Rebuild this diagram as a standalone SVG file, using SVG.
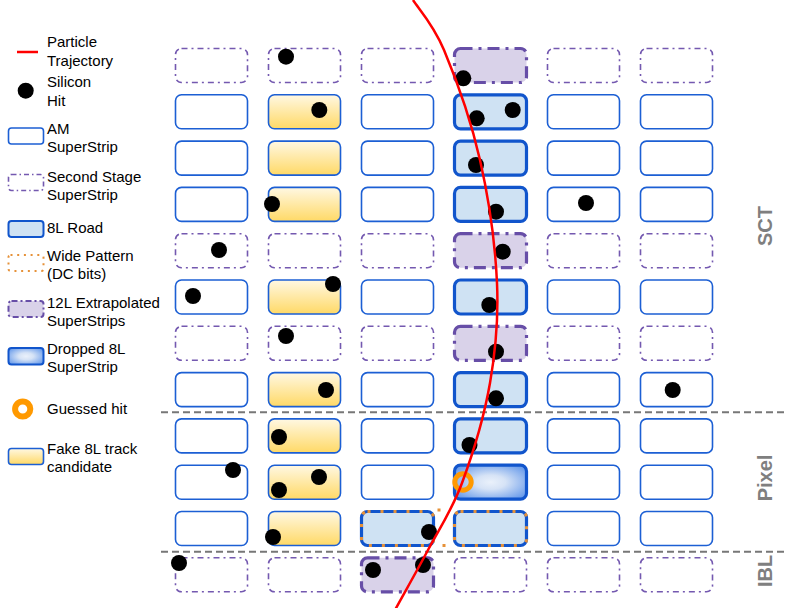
<svg xmlns="http://www.w3.org/2000/svg" width="787" height="608" viewBox="0 0 787 608">
<defs>
<linearGradient id="gy" x1="0" y1="0" x2="0" y2="1">
<stop offset="0" stop-color="#fff8e3"/>
<stop offset="1" stop-color="#ffd966"/>
</linearGradient>
<radialGradient id="gr" cx="0.5" cy="0.5" r="0.6">
<stop offset="0" stop-color="#eaf1fb"/>
<stop offset="0.35" stop-color="#d6e3f6"/>
<stop offset="1" stop-color="#6d9eeb"/>
</radialGradient>
</defs>
<style>
.am{fill:#fff;stroke:#1c5fd4;stroke-width:1.6}
.ss{fill:#fff;stroke:#7459b0;stroke-width:1.6;stroke-dasharray:6 4 2 4}
.yl{fill:url(#gy);stroke:#1c5fd4;stroke-width:1.6}
.rd{fill:#cfe2f3;stroke:#1155cc;stroke-width:3.2}
.dr{fill:url(#gr);stroke:#1155cc;stroke-width:3.2}
.ex{fill:#d9d2e9;stroke:#674ea7;stroke-width:3.2;stroke-dasharray:12 6 3 6}
.wp{fill:none;stroke:#e69138;stroke-width:3;stroke-dasharray:3 10}
.hit{fill:#000}
.ring{fill:none;stroke:#ff9900;stroke-width:5}
.lg{font-family:"Liberation Sans",Arial,sans-serif;font-size:15px;fill:#000}
.det{font-family:"Liberation Sans",Arial,sans-serif;font-size:20px;font-weight:bold;fill:#7f7f7f}
.sep{stroke:#777;stroke-width:2;stroke-dasharray:7 4;fill:none}
</style>

<g id="legend">
<g id="leg-traj"><line x1="17" y1="52" x2="38" y2="52" stroke="#ff0000" stroke-width="2.5"/><text class="lg" x="47" y="47">Particle</text><text class="lg" x="47" y="66">Trajectory</text></g>
<g id="leg-hit"><circle class="hit" cx="25.7" cy="90.7" r="8"/><text class="lg" x="47" y="87">Silicon</text><text class="lg" x="47" y="106">Hit</text></g>
<g id="leg-am"><rect class="am" x="8.5" y="128" width="35" height="16" rx="3"/><text class="lg" x="47" y="134">AM</text><text class="lg" x="47" y="152">SuperStrip</text></g>
<g id="leg-ss"><rect class="ss" x="8.5" y="174.5" width="35" height="16" rx="3" style="stroke-dasharray:5 3 1.5 3"/><text class="lg" x="47" y="182">Second Stage</text><text class="lg" x="47" y="200">SuperStrip</text></g>
<g id="leg-road"><rect class="rd" x="8.5" y="221" width="35" height="16" rx="3" style="stroke-width:2"/><text class="lg" x="47" y="233">8L Road</text></g>
<g id="leg-wide"><rect class="wp" x="8.5" y="255" width="35" height="16" rx="2" style="stroke-width:2;stroke-dasharray:2 4.7"/><text class="lg" x="47" y="261">Wide Pattern</text><text class="lg" x="47" y="279">(DC bits)</text></g>
<g id="leg-ext"><rect class="ex" x="8.5" y="301" width="35" height="16" rx="3" style="stroke-width:2;stroke-dasharray:6 3 2 3"/><text class="lg" x="47" y="307.5">12L Extrapolated</text><text class="lg" x="47" y="326">SuperStrips</text></g>
<g id="leg-drop"><rect class="dr" x="8.5" y="348" width="35" height="16.5" rx="3" style="stroke-width:2"/><text class="lg" x="47" y="353.5">Dropped 8L</text><text class="lg" x="47" y="372">SuperStrip</text></g>
<g id="leg-guess"><circle class="ring" cx="22.7" cy="409" r="7.6" style="stroke-width:6"/><text class="lg" x="47" y="413.5">Guessed hit</text></g>
<g id="leg-fake"><rect class="yl" x="8.5" y="448.5" width="35" height="16" rx="3"/><text class="lg" x="47" y="454">Fake 8L track</text><text class="lg" x="47" y="472">candidate</text></g>
</g>

<g id="row1">
<rect class="ss" x="175.5" y="48.5" width="72" height="34" rx="6"/>
<rect class="ss" x="268.5" y="48.5" width="72" height="34" rx="6"/>
<rect class="ss" x="361.5" y="48.5" width="72" height="34" rx="6"/>
<rect class="ex" x="454.5" y="48.5" width="72" height="34" rx="6"/>
<rect class="ss" x="547.5" y="48.5" width="72" height="34" rx="6"/>
<rect class="ss" x="640.5" y="48.5" width="72" height="34" rx="6"/>
</g>
<g id="row2">
<rect class="am" x="175.5" y="94.8" width="72" height="34" rx="6"/>
<rect class="yl" x="268.5" y="94.8" width="72" height="34" rx="6"/>
<rect class="am" x="361.5" y="94.8" width="72" height="34" rx="6"/>
<rect class="rd" x="454.5" y="94.8" width="72" height="34" rx="6"/>
<rect class="am" x="547.5" y="94.8" width="72" height="34" rx="6"/>
<rect class="am" x="640.5" y="94.8" width="72" height="34" rx="6"/>
</g>
<g id="row3">
<rect class="am" x="175.5" y="141.1" width="72" height="34" rx="6"/>
<rect class="yl" x="268.5" y="141.1" width="72" height="34" rx="6"/>
<rect class="am" x="361.5" y="141.1" width="72" height="34" rx="6"/>
<rect class="rd" x="454.5" y="141.1" width="72" height="34" rx="6"/>
<rect class="am" x="547.5" y="141.1" width="72" height="34" rx="6"/>
<rect class="am" x="640.5" y="141.1" width="72" height="34" rx="6"/>
</g>
<g id="row4">
<rect class="am" x="175.5" y="187.4" width="72" height="34" rx="6"/>
<rect class="yl" x="268.5" y="187.4" width="72" height="34" rx="6"/>
<rect class="am" x="361.5" y="187.4" width="72" height="34" rx="6"/>
<rect class="rd" x="454.5" y="187.4" width="72" height="34" rx="6"/>
<rect class="am" x="547.5" y="187.4" width="72" height="34" rx="6"/>
<rect class="am" x="640.5" y="187.4" width="72" height="34" rx="6"/>
</g>
<g id="row5">
<rect class="ss" x="175.5" y="233.7" width="72" height="34" rx="6"/>
<rect class="ss" x="268.5" y="233.7" width="72" height="34" rx="6"/>
<rect class="ss" x="361.5" y="233.7" width="72" height="34" rx="6"/>
<rect class="ex" x="454.5" y="233.7" width="72" height="34" rx="6"/>
<rect class="ss" x="547.5" y="233.7" width="72" height="34" rx="6"/>
<rect class="ss" x="640.5" y="233.7" width="72" height="34" rx="6"/>
</g>
<g id="row6">
<rect class="am" x="175.5" y="280" width="72" height="34" rx="6"/>
<rect class="yl" x="268.5" y="280" width="72" height="34" rx="6"/>
<rect class="am" x="361.5" y="280" width="72" height="34" rx="6"/>
<rect class="rd" x="454.5" y="280" width="72" height="34" rx="6"/>
<rect class="am" x="547.5" y="280" width="72" height="34" rx="6"/>
<rect class="am" x="640.5" y="280" width="72" height="34" rx="6"/>
</g>
<g id="row7">
<rect class="ss" x="175.5" y="326.3" width="72" height="34" rx="6"/>
<rect class="ss" x="268.5" y="326.3" width="72" height="34" rx="6"/>
<rect class="ss" x="361.5" y="326.3" width="72" height="34" rx="6"/>
<rect class="ex" x="454.5" y="326.3" width="72" height="34" rx="6"/>
<rect class="ss" x="547.5" y="326.3" width="72" height="34" rx="6"/>
<rect class="ss" x="640.5" y="326.3" width="72" height="34" rx="6"/>
</g>
<g id="row8">
<rect class="am" x="175.5" y="372.6" width="72" height="34" rx="6"/>
<rect class="yl" x="268.5" y="372.6" width="72" height="34" rx="6"/>
<rect class="am" x="361.5" y="372.6" width="72" height="34" rx="6"/>
<rect class="rd" x="454.5" y="372.6" width="72" height="34" rx="6"/>
<rect class="am" x="547.5" y="372.6" width="72" height="34" rx="6"/>
<rect class="am" x="640.5" y="372.6" width="72" height="34" rx="6"/>
</g>
<g id="row9">
<rect class="am" x="175.5" y="418.9" width="72" height="34" rx="6"/>
<rect class="yl" x="268.5" y="418.9" width="72" height="34" rx="6"/>
<rect class="am" x="361.5" y="418.9" width="72" height="34" rx="6"/>
<rect class="rd" x="454.5" y="418.9" width="72" height="34" rx="6"/>
<rect class="am" x="547.5" y="418.9" width="72" height="34" rx="6"/>
<rect class="am" x="640.5" y="418.9" width="72" height="34" rx="6"/>
</g>
<g id="row10">
<rect class="am" x="175.5" y="465.2" width="72" height="34" rx="6"/>
<rect class="yl" x="268.5" y="465.2" width="72" height="34" rx="6"/>
<rect class="am" x="361.5" y="465.2" width="72" height="34" rx="6"/>
<rect class="dr" x="454.5" y="465.2" width="72" height="34" rx="6"/>
<rect class="am" x="547.5" y="465.2" width="72" height="34" rx="6"/>
<rect class="am" x="640.5" y="465.2" width="72" height="34" rx="6"/>
</g>
<g id="row11">
<rect class="am" x="175.5" y="511.5" width="72" height="34" rx="6"/>
<rect class="yl" x="268.5" y="511.5" width="72" height="34" rx="6"/>
<rect class="rd" x="361.5" y="511.5" width="72" height="34" rx="6"/>
<rect class="wp" x="361.5" y="511.5" width="72" height="34" rx="6"/>
<rect x="437.5" y="508.5" width="3" height="3" fill="#e69138"/>
<rect x="442.5" y="544" width="3" height="3" fill="#e69138"/>
<rect class="rd" x="454.5" y="511.5" width="72" height="34" rx="6"/>
<rect class="wp" x="454.5" y="511.5" width="72" height="34" rx="6"/>
<rect class="am" x="547.5" y="511.5" width="72" height="34" rx="6"/>
<rect class="am" x="640.5" y="511.5" width="72" height="34" rx="6"/>
</g>
<g id="row12">
<rect class="ss" x="175.5" y="557.8" width="72" height="34" rx="6"/>
<rect class="ss" x="268.5" y="557.8" width="72" height="34" rx="6"/>
<rect class="ex" x="361.5" y="557.8" width="72" height="34" rx="6"/>
<rect class="ss" x="454.5" y="557.8" width="72" height="34" rx="6"/>
<rect class="ss" x="547.5" y="557.8" width="72" height="34" rx="6"/>
<rect class="ss" x="640.5" y="557.8" width="72" height="34" rx="6"/>
</g>

<g id="separators">
<line class="sep" x1="161" y1="412.3" x2="787" y2="412.3"/>
<line class="sep" x1="161" y1="551.7" x2="787" y2="551.7"/>
</g>

<g id="labels">
<text class="det" text-anchor="middle" transform="translate(771.5,226) rotate(-90)">SCT</text>
<text class="det" text-anchor="middle" transform="translate(771.5,478) rotate(-90)">Pixel</text>
<text class="det" text-anchor="middle" transform="translate(771.5,571) rotate(-90)">IBL</text>
</g>

<g id="hits">
<circle class="hit" cx="286" cy="56.7" r="8"/>
<circle class="hit" cx="463.3" cy="78.3" r="8"/>
<circle class="hit" cx="319.3" cy="110" r="8"/>
<circle class="hit" cx="476.7" cy="118.3" r="8"/>
<circle class="hit" cx="512.7" cy="110" r="8"/>
<circle class="hit" cx="476" cy="165" r="8"/>
<circle class="hit" cx="272" cy="204" r="8"/>
<circle class="hit" cx="496" cy="211.7" r="8"/>
<circle class="hit" cx="586" cy="203" r="8"/>
<circle class="hit" cx="219" cy="250" r="8"/>
<circle class="hit" cx="502.7" cy="251.7" r="8"/>
<circle class="hit" cx="193" cy="296" r="8"/>
<circle class="hit" cx="333" cy="284" r="8"/>
<circle class="hit" cx="489.3" cy="305" r="8"/>
<circle class="hit" cx="286" cy="336" r="8"/>
<circle class="hit" cx="496" cy="351.7" r="8"/>
<circle class="hit" cx="326" cy="390" r="8"/>
<circle class="hit" cx="496" cy="398.3" r="8"/>
<circle class="hit" cx="672.7" cy="390" r="8"/>
<circle class="hit" cx="279" cy="437" r="8"/>
<circle class="hit" cx="469.5" cy="445" r="8"/>
<circle class="hit" cx="233" cy="470" r="8"/>
<circle class="hit" cx="319" cy="477" r="8"/>
<circle class="hit" cx="279" cy="490" r="8"/>
<circle class="hit" cx="273" cy="537" r="8"/>
<circle class="hit" cx="429" cy="532" r="8"/>
<circle class="hit" cx="179" cy="563" r="8"/>
<circle class="hit" cx="373" cy="570" r="8"/>
<circle class="hit" cx="423" cy="565" r="8"/>
<circle class="ring" cx="463" cy="482" r="8.2"/>
</g>

<g id="connectors">
<path id="trajectory" fill="none" stroke="#ff0000" stroke-width="2.5" d="M413,0 C418.2,8.3 432.8,23.3 444,50 C455.2,76.7 471.2,121.2 480,160 C488.8,198.8 495.3,245.8 497,283 C498.7,320.2 495.8,349.7 490,383 C484.2,416.3 472.3,455.2 462,483 C451.7,510.8 439,529.2 428,550 C417,570.8 401.3,598.3 395,610"/>
</g>
</svg>
